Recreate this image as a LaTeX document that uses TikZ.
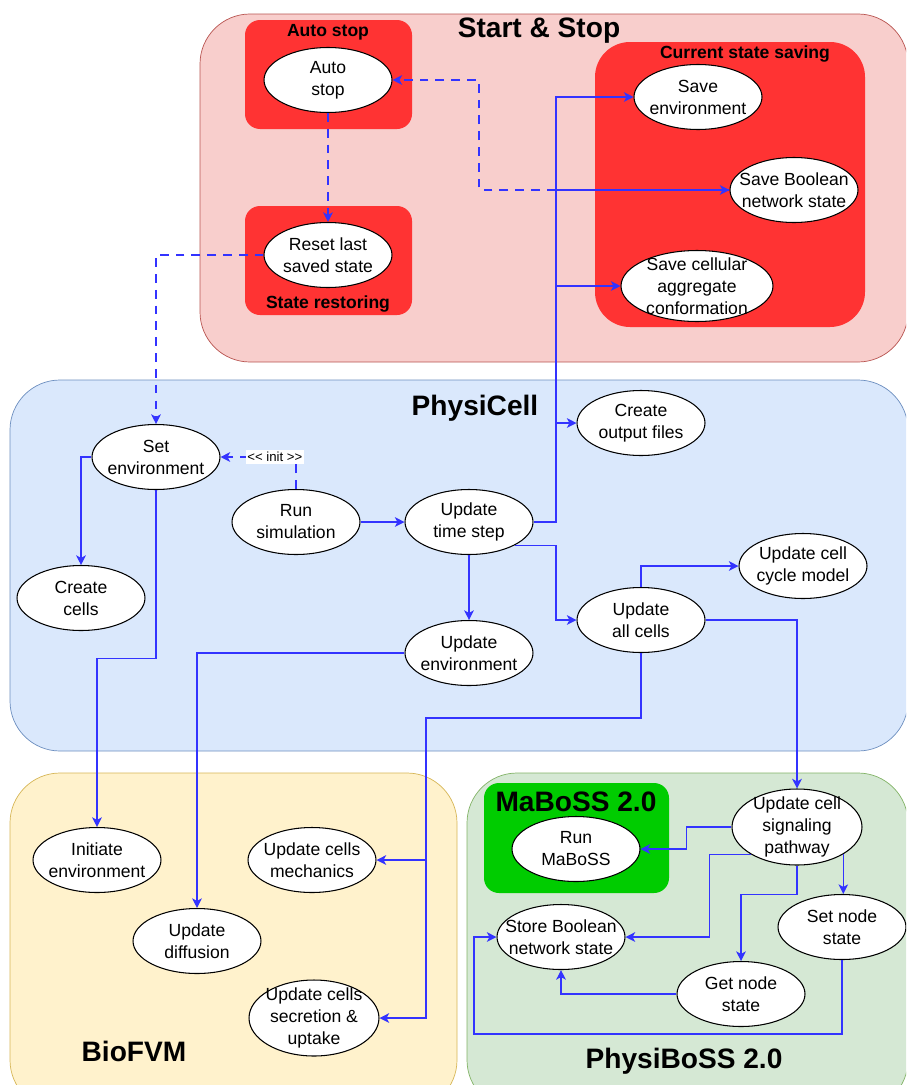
\documentclass[tikz,border=0pt]{standalone}
\usepackage{fontspec}
\setmainfont{Liberation Sans}
\usetikzlibrary{shapes.geometric,arrows.meta}
\definecolor{ssfill}{HTML}{F8CECC}
\definecolor{ssline}{HTML}{B85450}
\definecolor{boxred}{HTML}{FF3333}
\definecolor{pcfill}{HTML}{DAE8FC}
\definecolor{pcline}{HTML}{6C8EBF}
\definecolor{bvfill}{HTML}{FFF2CC}
\definecolor{bvline}{HTML}{D6B656}
\definecolor{pbfill}{HTML}{D5E8D4}
\definecolor{pbline}{HTML}{82B366}
\definecolor{mbgreen}{HTML}{00CC00}
\definecolor{linkblue}{HTML}{3333FF}
\tikzset{
  proc/.style={ellipse,draw,line width=0.6pt,fill=white,inner sep=-1cm,
    minimum width=2.56cm,minimum height=1.3cm,align=center,
    font=\fontsize{10}{12.5}\selectfont},
  link/.style={draw=linkblue,line width=0.6pt,-{Stealth[length=5.5pt,width=5.5pt,inset=1.5pt]}},
  dlink/.style={link,dash pattern=on 5pt off 4pt},
  bigtitle/.style={font=\bfseries\fontsize{16}{18}\selectfont},
  boxtitle/.style={font=\bfseries\fontsize{10}{12}\selectfont},
  initlabel/.style={fill=white,inner sep=1pt,font=\fontsize{7.5}{8}\selectfont}
}
\begin{document}
\begin{tikzpicture}[x=0.02cm,y=-0.02cm]
  \useasboundingbox (0,0) rectangle (906,1085);
  \clip (0,0) rectangle (906,1085);
  \draw[fill=ssfill,draw=ssline,rounded corners=1cm] (200,14) rectangle (908,362);
  \draw[fill=pcfill,draw=pcline,rounded corners=1cm] (10,380) rectangle (908,751);
  \draw[fill=bvfill,draw=bvline,rounded corners=1cm] (10,773) rectangle (457,1110);
  \draw[fill=pbfill,draw=pbline,rounded corners=1cm] (467,773) rectangle (908,1110);
  \fill[boxred,rounded corners=0.3cm] (245,20) rectangle (412,129);
  \fill[boxred,rounded corners=0.3cm] (245,206) rectangle (412,315);
  \fill[boxred,rounded corners=0.7cm] (595,42) rectangle (865,327);
  \fill[mbgreen,rounded corners=0.3cm] (484,783) rectangle (669,893);

  \node[bigtitle] (tstart) at (539,31) {Start \& Stop};
  \node[bigtitle] (tphysicell) at (475,408) {PhysiCell};
  \node[bigtitle] (tbiofvm) at (134,1051) {BioFVM};
  \node[bigtitle] (tphysiboss) at (684,1061) {PhysiBoSS 2.0};
  \node[bigtitle] (tmaboss) at (576,802) {MaBoSS 2.0};
  \node[boxtitle] (tautostop) at (328,32) {Auto stop};
  \node[boxtitle] (trestore) at (328,304) {State restoring};
  \node[boxtitle] (tsaving) at (745,54) {Current state saving};

  \node[proc] (autostop) at (328,80) {Auto\\stop};
  \node[proc] (reset) at (328,255) {Reset last\\saved state};
  \node[proc] (saveenv) at (698,97) {Save\\environment};
  \node[proc] (savebool) at (794,190) {Save Boolean\\network state};
  \node[proc,minimum width=3.04cm,minimum height=1.42cm] (savecell) at (697,286) {Save cellular\\aggregate\\conformation};

  \node[proc] (setenv) at (156,457) {Set\\environment};
  \node[proc] (cells) at (81,598) {Create\\cells};
  \node[proc] (runsim) at (296,522) {Run\\simulation};
  \node[proc] (timestep) at (469,522) {Update\\time step};
  \node[proc] (output) at (641,423) {Create\\output files};
  \node[proc] (cycle) at (803,566) {Update cell\\cycle model};
  \node[proc] (allcells) at (641,620) {Update\\all cells};
  \node[proc] (updenv) at (469,653) {Update\\environment};

  \node[proc] (initenv) at (97,860) {Initiate\\environment};
  \node[proc] (diffusion) at (197,941) {Update\\diffusion};
  \node[proc] (mechanics) at (312,860) {Update cells\\mechanics};
  \node[proc,minimum width=2.6cm,minimum height=1.52cm] (secretion) at (314,1018) {Update cells\\secretion \&\\uptake};

  \node[proc] (runmaboss) at (576,849) {Run\\MaBoSS};
  \node[proc,minimum width=2.6cm,minimum height=1.52cm] (signal) at (797,827) {Update cell\\signaling\\pathway};
  \node[proc] (setnode) at (842,927) {Set node\\state};
  \node[proc] (storebool) at (561,937) {Store Boolean\\network state};
  \node[proc] (getnode) at (741,994) {Get node\\state};

  \coordinate (sbend) at (479,190);
  \coordinate (tbus) at (556,522);
  \coordinate (bbus) at (426,718);
  \coordinate (loopc) at (474,1034);

  \draw[dlink] (savebool.west) -- (sbend) |- (autostop.east);
  \draw[dlink] (autostop.south) -- (reset.north);
  \draw[dlink] (reset.west) -| (setenv.north);
  \draw[dlink] (runsim.north) |- (setenv.east) node[initlabel,pos=0.64] {<{}< init >{}>};

  \draw[link] (runsim.east) -- (timestep.west);
  \draw[link] (timestep.east) -- (tbus) |- (saveenv.west);
  \draw[link] (tbus) |- (savebool.west);
  \draw[link] (tbus) |- (savecell.west);
  \draw[link] (tbus) |- (output.west);
  \draw[link] (timestep.south east) -- (tbus |- timestep.south east) |- (allcells.west);
  \draw[link] (timestep.south) -- (updenv.north);
  \draw[link] (setenv.west) -| (cells.north);
  \draw[link] (setenv.south) -- ++(0,168) -| (initenv.north);
  \draw[link] (updenv.west) -| (diffusion.north);
  \draw[link] (allcells.north) |- (cycle.west);
  \draw[link] (allcells.south) |- (bbus) |- (mechanics.east);
  \draw[link] (bbus) |- (secretion.east);
  \draw[link] (allcells.east) -| (signal.north);

  \draw[link] (signal.west) -- ++(-45,0) |- (runmaboss.east);
  \draw[link] (signal.south west) -- ++(-41,0) |- (storebool.east);
  \draw[link] (signal.south) -- ++(0,29) -| (getnode.north);
  \draw[link] (signal.south east) -- (signal.south east |- setnode.north);
  \draw[link] (setnode.south) |- (loopc) |- (storebool.west);
  \draw[link] (getnode.west) -| (storebool.south);
\end{tikzpicture}
\end{document}
